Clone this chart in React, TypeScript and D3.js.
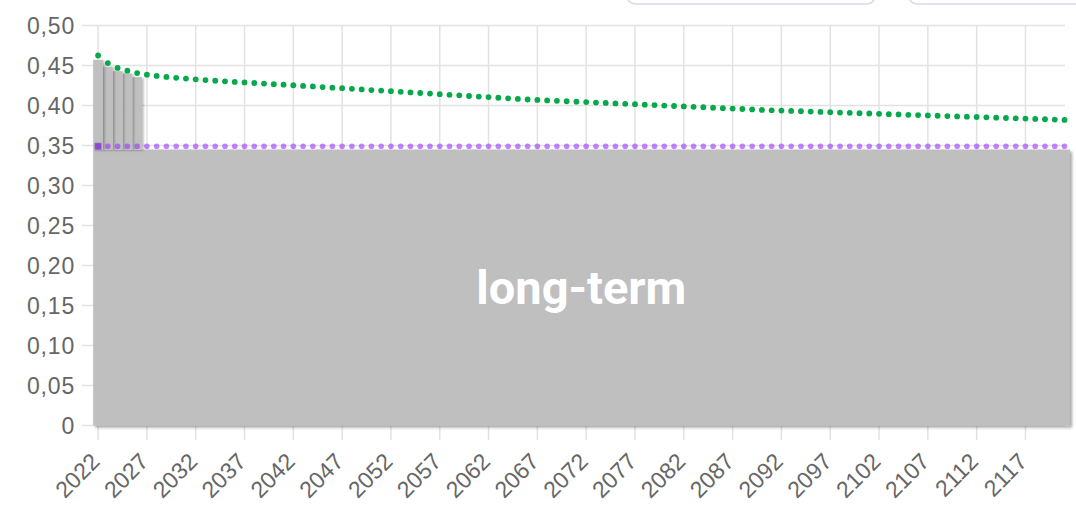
import React from "react";
import * as d3 from "d3";

const years: number[] = d3.range(2022, 2122);

// total projected value (green dotted series)
const projected: number[] = [
  0.4625, 0.453, 0.447, 0.4435, 0.4405, 0.4385, 0.437, 0.4357, 0.4346, 0.4336,
  0.4327, 0.4318, 0.431, 0.4302, 0.4295, 0.4288, 0.4281, 0.4274, 0.4267, 0.426,
  0.4253, 0.4245, 0.4238, 0.423, 0.4223, 0.4216, 0.4208, 0.4201, 0.4193, 0.4186,
  0.4179, 0.4171, 0.4164, 0.4156, 0.4149, 0.4142, 0.4134, 0.4127, 0.4119, 0.4112,
  0.4105, 0.4097, 0.409, 0.4082, 0.4075, 0.407, 0.4064, 0.4059, 0.4053, 0.4048,
  0.4043, 0.4037, 0.4032, 0.4026, 0.4021, 0.4016, 0.401, 0.4005, 0.3999, 0.3994,
  0.3989, 0.3983, 0.3978, 0.3972, 0.3967, 0.3962, 0.3956, 0.3951, 0.3945, 0.394,
  0.3936, 0.3932, 0.3928, 0.3924, 0.392, 0.3916, 0.3912, 0.3908, 0.3904, 0.39,
  0.3896, 0.3892, 0.3888, 0.3884, 0.388, 0.3876, 0.3872, 0.3868, 0.3864, 0.386,
  0.3856, 0.3852, 0.3848, 0.3844, 0.384, 0.3836, 0.3832, 0.3828, 0.3824, 0.382,
];

// target (purple dotted series)
const target: number[] = [
  0.349, 0.349, 0.349, 0.349, 0.349, 0.349, 0.349, 0.349, 0.349, 0.349,
  0.349, 0.349, 0.349, 0.349, 0.349, 0.349, 0.349, 0.349, 0.349, 0.349,
  0.349, 0.349, 0.349, 0.349, 0.349, 0.349, 0.349, 0.349, 0.349, 0.349,
  0.349, 0.349, 0.349, 0.349, 0.349, 0.349, 0.349, 0.349, 0.349, 0.349,
  0.349, 0.349, 0.349, 0.349, 0.349, 0.349, 0.349, 0.349, 0.349, 0.349,
  0.349, 0.349, 0.349, 0.349, 0.349, 0.349, 0.349, 0.349, 0.349, 0.349,
  0.349, 0.349, 0.349, 0.349, 0.349, 0.349, 0.349, 0.349, 0.349, 0.349,
  0.349, 0.349, 0.349, 0.349, 0.349, 0.349, 0.349, 0.349, 0.349, 0.349,
  0.349, 0.349, 0.349, 0.349, 0.349, 0.349, 0.349, 0.349, 0.349, 0.349,
  0.349, 0.349, 0.349, 0.349, 0.349, 0.349, 0.349, 0.349, 0.349, 0.349,
];

// long-term bar component (same for every year)
const longTerm: number[] = [
  0.345, 0.345, 0.345, 0.345, 0.345, 0.345, 0.345, 0.345, 0.345, 0.345,
  0.345, 0.345, 0.345, 0.345, 0.345, 0.345, 0.345, 0.345, 0.345, 0.345,
  0.345, 0.345, 0.345, 0.345, 0.345, 0.345, 0.345, 0.345, 0.345, 0.345,
  0.345, 0.345, 0.345, 0.345, 0.345, 0.345, 0.345, 0.345, 0.345, 0.345,
  0.345, 0.345, 0.345, 0.345, 0.345, 0.345, 0.345, 0.345, 0.345, 0.345,
  0.345, 0.345, 0.345, 0.345, 0.345, 0.345, 0.345, 0.345, 0.345, 0.345,
  0.345, 0.345, 0.345, 0.345, 0.345, 0.345, 0.345, 0.345, 0.345, 0.345,
  0.345, 0.345, 0.345, 0.345, 0.345, 0.345, 0.345, 0.345, 0.345, 0.345,
  0.345, 0.345, 0.345, 0.345, 0.345, 0.345, 0.345, 0.345, 0.345, 0.345,
  0.345, 0.345, 0.345, 0.345, 0.345, 0.345, 0.345, 0.345, 0.345, 0.345,
];

// short-term bar component stacked on top (first years only)
const shortTermYears: number[] = [2022, 2023, 2024, 2025, 2026];
const shortTerm: number[] = [0.112, 0.1035, 0.098, 0.095, 0.0905];

const yTicks: number[] = [0, 0.05, 0.1, 0.15, 0.2, 0.25, 0.3, 0.35, 0.4, 0.45, 0.5];
const xTickYears: number[] = years.filter((y) => (y - 2022) % 5 === 0);

const W = 1076;
const H = 505;

const fmtY = (v: number) => (v === 0 ? "0" : d3.format(".2f")(v).replace(".", ","));

export default function App() {
  const x = d3.scaleBand<number>().domain(years).range([93.2, 1069.4]).padding(0);
  const y = d3.scaleLinear().domain([0, 0.5]).range([425.5, 25.5]);
  const bw = x.bandwidth();
  const cx = (yr: number) => (x(yr) as number) + bw / 2;

  const gridColor = "#e2e2e2";
  const labelColor = "#666666";
  const barColor = "#bfbfbf";

  const ltIdx = years.map((_, i) => i);

  return (
    <svg
      width={W}
      height={H}
      style={{ position: "absolute", left: 0, top: 0, background: "#fff" }}
    >
      <defs>
        <filter id="shadow" x="-10%" y="-10%" width="130%" height="130%">
          <feDropShadow dx="2" dy="2" stdDeviation="1.5" floodColor="#000" floodOpacity="0.35" />
        </filter>
        <filter id="shadowSmall" x="-50%" y="-10%" width="200%" height="130%">
          <feDropShadow dx="1.5" dy="1" stdDeviation="1.2" floodColor="#000" floodOpacity="0.3" />
        </filter>
      </defs>

      {/* legend boxes (cut off at the top) */}
      <rect x={626.5} y={-24} width={249} height={28} rx={9} fill="#fff" stroke="#d6dcea" strokeWidth={1.5} />
      <rect x={908.5} y={-24} width={220} height={28} rx={9} fill="#fff" stroke="#d6dcea" strokeWidth={1.5} />

      {/* horizontal grid */}
      {yTicks.map((t) => (
        <line key={"hg" + t} x1={82} x2={1065} y1={y(t)} y2={y(t)} stroke={gridColor} strokeWidth={1.5} />
      ))}
      {/* vertical grid + ticks */}
      {xTickYears.map((yr) => (
        <line key={"vg" + yr} x1={cx(yr)} x2={cx(yr)} y1={y(0.5)} y2={440} stroke={gridColor} strokeWidth={1.5} />
      ))}

      {/* long-term bars */}
      <g filter="url(#shadow)">
        {ltIdx.map((i) => (
          <rect
            key={"lt" + i}
            x={x(years[i]) as number}
            y={y(longTerm[i])}
            width={bw + 0.6}
            height={y(0) - y(longTerm[i])}
            fill={barColor}
          />
        ))}
      </g>

      {/* short-term bars stacked on long-term (drawn right to left) */}
      {shortTermYears
        .map((yr, i) => ({ yr, i }))
        .reverse()
        .map(({ yr, i }) => {
          const base = longTerm[years.indexOf(yr)];
          return (
            <rect
              key={"st" + yr}
              x={x(yr) as number}
              y={y(base + shortTerm[i])}
              width={bw}
              height={y(base) - y(base + shortTerm[i])}
              fill={barColor}
              filter="url(#shadowSmall)"
            />
          );
        })}

      {/* label in long-term block */}
      <text
        x={(93.2 + 1069.4) / 2}
        y={(y(0.345) + y(0)) / 2 + 16}
        textAnchor="middle"
        fill="#fff"
        fontFamily="Roboto, 'Noto Sans', sans-serif"
        fontWeight={700}
        fontSize={47}
      >
        long-term
      </text>

      {/* target dots */}
      {years.map((yr, i) => (
        <circle key={"tg" + yr} cx={cx(yr)} cy={y(target[i])} r={2.8} fill="rgba(153,51,255,0.6)" />
      ))}
      <rect x={cx(2022) - 3.5} y={y(target[0]) - 3.5} width={7} height={7} fill="rgba(130,60,200,0.75)" />

      {/* projected dots */}
      {years.map((yr, i) => (
        <circle key={"pj" + yr} cx={cx(yr)} cy={y(projected[i])} r={2.9} fill="#06a84c" />
      ))}

      {/* y labels */}
      {yTicks.map((t) => (
        <text
          key={"yl" + t}
          x={75}
          y={y(t)}
          textAnchor="end"
          dominantBaseline="central"
          fill={labelColor}
          fontFamily="'Liberation Sans', Arial, sans-serif"
          fontSize={23}
          letterSpacing={0.8}
        >
          {fmtY(t)}
        </text>
      ))}

      {/* x labels */}
      {xTickYears.map((yr) => (
        <text
          key={"xl" + yr}
          transform={`translate(${cx(yr) + 3},${463}) rotate(-45)`}
          textAnchor="end"
          fill={labelColor}
          fontFamily="'Liberation Sans', Arial, sans-serif"
          fontSize={23}
        >
          {yr}
        </text>
      ))}
    </svg>
  );
}
